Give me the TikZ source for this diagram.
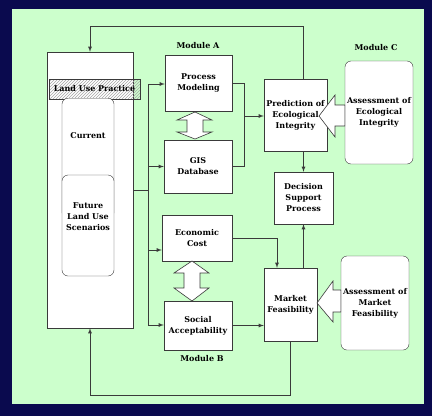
\documentclass[tikz,border=0pt]{standalone}
\usepackage{fontspec}
\setmainfont{DejaVu Serif}
\usetikzlibrary{patterns}
\definecolor{navy}{HTML}{0A0A4E}
\definecolor{bggreen}{HTML}{CCFFCC}
\definecolor{ln}{HTML}{3A3A3A}
\begin{document}
\begin{tikzpicture}[x=1pt,y=-1pt,
  font=\bfseries\fontsize{8}{11}\selectfont,
  box/.style={draw=ln,fill=white,align=center,inner sep=0pt},
  rbox/.style={box,rounded corners=6pt},
  conn/.style={draw=ln,line width=0.8pt},
  arr/.style={conn,-latex},
  blk/.style={draw=ln,fill=white,line width=0.6pt}]
\fill[navy] (0,0) rectangle (432,416);
\fill[bggreen] (12,9) rectangle (424,404);
\useasboundingbox (0,0) rectangle (432,416);
% left big box
\node[box,minimum width=86pt,minimum height=276pt] (big) at (90,190) {};
\node[draw=ln,pattern=north east lines,pattern color=gray!70,minimum width=91pt,minimum height=20pt,inner sep=0pt] (lup) at (94.5,89) {};
\node at (94.5,89) (luptxt) {Land Use Practice};
\node[rbox,minimum width=52pt,minimum height=120pt,anchor=north] (cur) at (88,98) {};
\node (curtxt) at (88,136) {Current};
\node[rbox,minimum width=52pt,minimum height=101pt] (fut) at (88,225.5) {};
\node (futtxt) at (88,217) [align=center] {Future\\Land Use\\Scenarios};
% module A
\node[box,minimum width=67pt,minimum height=56pt] (proc) at (198.5,83) {Process\\Modeling};
\node[box,minimum width=68pt,minimum height=53pt] (gis) at (198,166.5) {GIS\\Database};
\node (modA) at (198,46) {Module A};
% module B
\node[box,minimum width=70pt,minimum height=46pt] (econ) at (197,238) {Economic\\Cost};
\node[box,minimum width=68pt,minimum height=49pt] (soc) at (198,325.5) {Social\\Acceptability};
\node (modB) at (202,359) {Module B};
% right column
\node[box,minimum width=63pt,minimum height=72pt] (pred) at (295.5,115) {Prediction of\\Ecological\\Integrity};
\node[box,minimum width=59pt,minimum height=52pt] (dec) at (303.5,198) {Decision\\Support\\Process};
\node[box,minimum width=53pt,minimum height=73pt] (mkt) at (290.5,304.5) {Market\\Feasibility};
\node[rbox,minimum width=68pt,minimum height=103pt] (aeco) at (379,112.5) {Assessment of\\Ecological\\Integrity};
\node[rbox,minimum width=68pt,minimum height=94pt] (amkt) at (375,303) {Assessment of\\Market\\Feasibility};
\node (modC) at (376,48) {Module C};
% block arrows
\draw[blk] (319,116) -- (335,95) -- (335,105) -- (aeco.west |- 0,105) -- (aeco.west |- 0,126) -- (335,126) -- (335,137) -- cycle;
\draw[blk] (317,303) -- (333,281) -- (333,290) -- (amkt.west |- 0,290) -- (amkt.west |- 0,312) -- (333,312) -- (333,322) -- cycle;
% double arrows
\draw[blk] (195,112) -- (212,120) -- (203,120) -- (203,132) -- (212,132) -- (195,139) -- (177,132) -- (187,132) -- (187,120) -- (177,120) -- cycle;
\draw[blk] (192,261) -- (209,273) -- (200,273) -- (200,288) -- (209,288) -- (192,301) -- (174,288) -- (184,288) -- (184,273) -- (174,273) -- cycle;
% trunk
\coordinate (ttop) at (148,84);
\coordinate (tbot) at (148,325);
\coordinate (tmid) at (148,190);
\coordinate (tecon) at (148,250);
\draw[conn] (ttop) -- (tbot);
\draw[conn] (big.east |- tmid) -- (tmid);
\draw[arr] (ttop) -- (ttop -| proc.west);
\draw[arr] (gis.west -| tmid) -- (gis.west);
\draw[arr] (tecon) -- (tecon -| econ.west);
\draw[arr] (tbot) -- (tbot -| soc.west);
% module A to prediction
\coordinate (j1) at (244,116);
\draw[conn] (proc.east) -| (j1);
\draw[conn] (gis.east) -| (j1);
\draw[arr] (j1) -- (j1 -| pred.west);
% prediction to decision, loop top
\coordinate (tl) at (90,26);
\draw[arr] (pred.north -| dec.north) |- (tl) -- (big.north);
\draw[arr] (pred.south -| dec.north) -- (dec.north);
% market
\coordinate (emx) at (277,0);
\draw[arr] (econ.east) -| (emx |- mkt.north);
\draw[arr] (soc.east) -- (soc.east -| mkt.west);
\draw[arr] (mkt.north -| dec.south) -- (dec.south);
\coordinate (bl) at (90,395);
\draw[arr] (mkt.south) |- (bl) -- (big.south);
\end{tikzpicture}
\end{document}
